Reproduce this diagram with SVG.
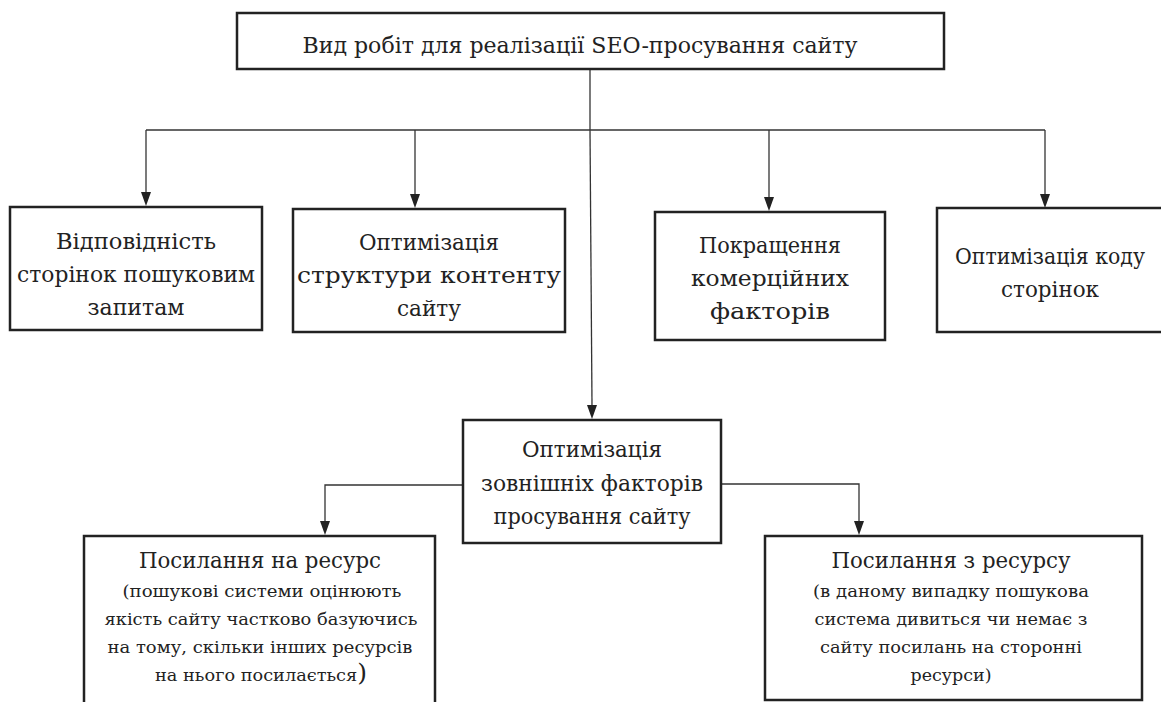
<svg xmlns="http://www.w3.org/2000/svg" width="1161" height="702" viewBox="0 0 1161 702">
<style>
.box{fill:#fff;stroke:#222;stroke-width:2.5}
.t{font-family:'DejaVu Serif','Liberation Serif',serif;font-size:23px;fill:#222;text-anchor:middle}
.s{font-family:'DejaVu Serif','Liberation Serif',serif;font-size:17px;fill:#222;text-anchor:middle}
.c{fill:none;stroke:#333;stroke-width:1.3}
.a{fill:#222}
</style>
<rect width="1161" height="702" fill="#fff"/>
<g id="connectors">
<path class="c" d="M146,130 H1045"/>
<path class="c" d="M590,69 V130"/>
<path class="c" d="M590,130 L592,405"/>
<path class="c" d="M146,130 V193"/>
<path class="c" d="M415,130 V195"/>
<path class="c" d="M769,130 V198"/>
<path class="c" d="M1045,130 V195"/>
<path class="c" d="M463,485 H325 V522"/>
<path class="c" d="M721,484 H859 V522"/>
<path class="a" d="M141,192 L151,192 L146,206 Z"/>
<path class="a" d="M410,194 L420,194 L415,208 Z"/>
<path class="a" d="M764,197 L774,197 L769,211 Z"/>
<path class="a" d="M1040,194 L1050,194 L1045,208 Z"/>
<path class="a" d="M587,405 L597,405 L592,419 Z"/>
<path class="a" d="M320,521 L330,521 L325,535 Z"/>
<path class="a" d="M854,521 L864,521 L859,535 Z"/>
</g>
<g id="top">
<rect class="box" x="237" y="13" width="707" height="56"/>
<text class="t" x="580" y="53" textLength="555" lengthAdjust="spacingAndGlyphs">Вид робіт для реалізації SEO-просування сайту</text>
</g>
<g id="n1">
<rect class="box" x="10" y="207" width="252" height="123"/>
<text class="t" x="136" y="249" textLength="160" lengthAdjust="spacingAndGlyphs">Відповідність</text>
<text class="t" x="136" y="282" textLength="238" lengthAdjust="spacingAndGlyphs">сторінок пошуковим</text>
<text class="t" x="136" y="315" textLength="97" lengthAdjust="spacingAndGlyphs">запитам</text>
</g>
<g id="n2">
<rect class="box" x="293" y="209" width="272" height="123"/>
<text class="t" x="429" y="250" textLength="140" lengthAdjust="spacingAndGlyphs">Оптимізація</text>
<text class="t" x="429" y="283" textLength="264" lengthAdjust="spacingAndGlyphs">структури контенту</text>
<text class="t" x="429" y="316" textLength="64" lengthAdjust="spacingAndGlyphs">сайту</text>
</g>
<g id="n3">
<rect class="box" x="655" y="212" width="230" height="128"/>
<text class="t" x="770" y="253" textLength="142" lengthAdjust="spacingAndGlyphs">Покращення</text>
<text class="t" x="770" y="286" textLength="158" lengthAdjust="spacingAndGlyphs">комерційних</text>
<text class="t" x="770" y="319" textLength="120" lengthAdjust="spacingAndGlyphs">факторів</text>
</g>
<g id="n4">
<rect class="box" x="937" y="208" width="240" height="124"/>
<text class="t" x="1050" y="264" textLength="190" lengthAdjust="spacingAndGlyphs">Оптимізація коду</text>
<text class="t" x="1050" y="297" textLength="98" lengthAdjust="spacingAndGlyphs">сторінок</text>
</g>
<g id="n5">
<rect class="box" x="463" y="420" width="258" height="123"/>
<text class="t" x="592" y="457" textLength="140" lengthAdjust="spacingAndGlyphs">Оптимізація</text>
<text class="t" x="592" y="491" textLength="222" lengthAdjust="spacingAndGlyphs">зовнішніх факторів</text>
<text class="t" x="592" y="524" textLength="197" lengthAdjust="spacingAndGlyphs">просування сайту</text>
</g>
<g id="n6">
<rect class="box" x="84" y="536" width="351" height="180"/>
<text class="t" x="260" y="568" textLength="242" lengthAdjust="spacingAndGlyphs">Посилання на ресурс</text>
<text class="s" x="262" y="597" textLength="279" lengthAdjust="spacingAndGlyphs">(пошукові системи оцінюють</text>
<text class="s" x="261" y="625" textLength="313" lengthAdjust="spacingAndGlyphs">якість сайту частково базуючись</text>
<text class="s" x="260" y="653" textLength="305" lengthAdjust="spacingAndGlyphs">на тому, скільки інших ресурсів</text>
<text class="s" x="261" y="681" textLength="212" lengthAdjust="spacingAndGlyphs">на нього посилається<tspan font-size="24">)</tspan></text>
</g>
<g id="n7">
<rect class="box" x="765" y="536" width="377" height="164"/>
<text class="t" x="951" y="568" textLength="239" lengthAdjust="spacingAndGlyphs">Посилання з ресурсу</text>
<text class="s" x="951" y="597" textLength="276" lengthAdjust="spacingAndGlyphs">(в даному випадку пошукова</text>
<text class="s" x="951" y="625" textLength="273" lengthAdjust="spacingAndGlyphs">система дивиться чи немає з</text>
<text class="s" x="951" y="653" textLength="262" lengthAdjust="spacingAndGlyphs">сайту посилань на сторонні</text>
<text class="s" x="951" y="681" textLength="81" lengthAdjust="spacingAndGlyphs">ресурси)</text>
</g>
</svg>
